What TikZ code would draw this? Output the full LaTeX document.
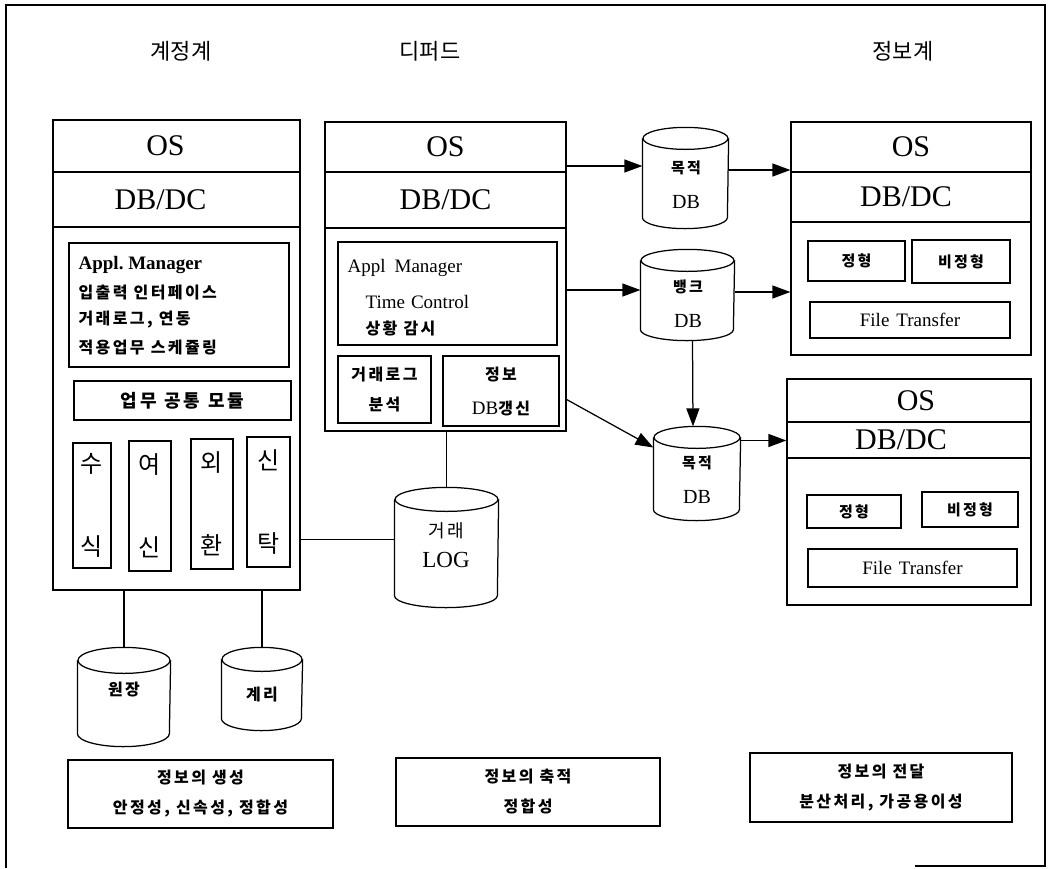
\documentclass[tikz,border=0pt]{standalone}
\usepackage{fontspec}
\setmainfont{Liberation Serif}
\newfontfamily\kr{Noto Sans CJK KR}
\newfontfamily\krs{Noto Sans CJK KR}[LetterSpace=15]
\usetikzlibrary{arrows.meta,fit,calc}
\newcommand\cyl[6]{% name x1 y1 x2 y2 ry
  \node[fit={(#2,#3) (#4,#5)}, inner sep=0pt] (#1) {};
  \pgfmathsetmacro\rx{(#4-#2)/2}
  \draw ([yshift=-#6pt]#1.north) ellipse [x radius=\rx pt, y radius=#6pt];
  \draw ([yshift=-#6pt]#1.north west) -- ([yshift=#6pt]#1.south west)
        arc[start angle=180, end angle=360, x radius=\rx pt, y radius=#6pt]
        -- ([yshift=-#6pt]#1.north east);
}
\newcommand\bx[7][]{% [opts] name x1 y1 x2 y2 text
  \pgfmathsetmacro\bxcx{(#3+#5)/2}%
  \pgfmathsetmacro\bxcy{(#4+#6)/2}%
  \pgfmathsetmacro\bxw{#5-#3}%
  \pgfmathsetmacro\bxh{#6-#4}%
  \node[draw, inner sep=0pt, align=center, minimum width=\bxw pt, minimum height=\bxh pt, #1] (#2) at (\bxcx,\bxcy) {#7};%
}
\begin{document}
\begin{tikzpicture}[x=1pt,y=-1pt, line width=1.25pt,
  big/.style={font=\fontsize{30}{32}\selectfont},
  hdr/.style={font=\fontsize{22}{26}\selectfont\kr, inner sep=0pt},
  krb/.style={font=\fontsize{#1}{#1}\selectfont\krs\bfseries, inner sep=0pt},
  lat/.style={font=\fontsize{#1}{#1}\selectfont, inner sep=0pt},
  vch/.style={font=\fontsize{24}{83}\selectfont\kr},
  arr/.style={-{Triangle[length=18pt,width=13pt]}},
]
\useasboundingbox (0,0) rectangle (1052,868);
\draw (6,868) -- (6,5) -- (1045,5) -- (1045,866) -- (915,866);

% headers
\node[hdr] (h1) at (181,51) {계정계};
\node[hdr] (h2) at (430,51) {디퍼드};
\node[hdr] (h3) at (903,51) {정보계};

% ---------- left system
\bx[big]{Los}{53}{120}{300}{172}{\hspace*{-22pt}OS}
\bx[big]{Ldb}{53}{172}{300}{227}{\hspace*{-32pt}DB/DC}
\bx{Lbody}{53}{227}{300}{590}{}
\bx{Lappl}{69}{243}{289}{367}{}
\node[anchor=west, inner sep=0pt, font=\fontsize{19}{19}\selectfont\bfseries] (La1) at (78,265) {Appl.\ Manager};
\node[krb=16, anchor=west] (La2) at (78,293) {입출력 인터페이스};
\node[krb=16, anchor=west] (La3) at (78,320) {거래로그, 연동};
\node[krb=16, anchor=west] (La4) at (78,348) {적용업무 스케쥴링};
\bx[font=\fontsize{18}{18}\selectfont\krs\bfseries]{Lcom}{74}{381}{291}{420}{업무\hspace{8pt}공통\hspace{8pt}모듈}
\bx[vch]{V1}{73}{443}{111}{568}{수\\식}
\bx[vch]{V2}{129}{441}{171}{571}{여\\신}
\bx[vch]{V3}{191}{439}{233}{569}{외\\환}
\bx[vch]{V4}{247}{437}{290}{567}{신\\탁}

\cyl{wj}{78}{648}{170}{746}{13}
\node[krb=16] (wjt) at (124,690) {원장};
\cyl{gr}{222}{648}{302}{730}{12}
\node[krb=16] (grt) at (262,695) {계리};
\draw (Lbody.south -| wj.north) -- (wj.north);
\draw (Lbody.south -| gr.north) -- (gr.north);

% ---------- middle system
\bx[big]{Mos}{325}{122}{566}{172}{OS}
\bx[big]{Mdb}{325}{172}{566}{228}{DB/DC}
\bx{M}{325}{228}{566}{431}{}
\bx{Mappl}{338}{242}{557}{345}{}
\node[lat=19, anchor=west] (Ma1) at (347,268) {Appl\hspace{9pt}Manager};
\node[lat=19, anchor=west] (Ma2) at (365,302) {Time\hspace{6pt}Control};
\node[krb=16, anchor=west] (Ma3) at (365,328) {상황 감시};
\bx[font=\fontsize{16}{30}\selectfont\krs\bfseries]{Mlog}{338}{356}{431}{423}{거래로그\\분석}
\bx[font=\fontsize{16}{34}\selectfont\krs\bfseries]{Mupd}{443}{356}{559}{426}{정보\\{\normalfont\rmfamily\fontsize{19}{19}\selectfont DB}갱신}

\cyl{lg}{395}{488}{498}{607}{12}
\node[inner sep=0pt, align=center, font=\fontsize{18}{30}\selectfont\krs] (lgt) at (446,545) {거래\\{\rmfamily\fontsize{23}{23}\selectfont LOG}};
\draw (M.south -| lg.north) -- (lg.north);
\coordinate (lgin) at ([yshift=8pt]lg.west);
\draw (Lbody.east |- lgin) -- (lgin);

% ---------- DB cylinders
\cyl{c1}{643}{128}{728}{228}{11}
\node[inner sep=0pt, align=center, font=\fontsize{15}{35}\selectfont\krs\bfseries] (c1t) at (686,185) {목적\\{\normalfont\rmfamily\fontsize{20}{20}\selectfont DB}};
\cyl{c2}{641}{250}{734}{340}{11}
\node[inner sep=0pt, align=center, font=\fontsize{15}{35}\selectfont\krs\bfseries] (c2t) at (688,304) {뱅크\\{\normalfont\rmfamily\fontsize{20}{20}\selectfont DB}};
\cyl{c3}{654}{427}{740}{520}{11}
\node[inner sep=0pt, align=center, font=\fontsize{15}{35}\selectfont\krs\bfseries] (c3t) at (697,480) {목적\\{\normalfont\rmfamily\fontsize{20}{20}\selectfont DB}};

% ---------- right systems
\bx[big]{R1os}{791}{122}{1031}{172}{OS}
\bx[big]{R1db}{791}{172}{1031}{222}{\hspace*{-10pt}DB/DC}
\bx{R1}{791}{222}{1031}{355}{}
\bx[font=\fontsize{15}{15}\selectfont\krs\bfseries]{R1a}{808}{241}{905}{281}{정형}
\bx[font=\fontsize{15}{15}\selectfont\krs\bfseries]{R1b}{912}{240}{1010}{283}{비정형}
\bx[font=\fontsize{19}{19}\selectfont]{R1c}{810}{302}{1010}{338}{File\hspace{7pt}Transfer}

\bx[big]{R2os}{787}{379}{1031}{422}{\hspace*{14pt}OS}
\bx[big]{R2db}{787}{422}{1031}{458}{\hspace*{-16pt}DB/DC}
\bx{R2}{787}{458}{1031}{605}{}
\bx[font=\fontsize{15}{15}\selectfont\krs\bfseries]{R2a}{807}{495}{901}{528}{정형}
\bx[font=\fontsize{15}{15}\selectfont\krs\bfseries]{R2b}{922}{492}{1018}{527}{비정형}
\bx[font=\fontsize{19}{19}\selectfont]{R2c}{808}{549}{1017}{587}{File\hspace{7pt}Transfer}

% ---------- arrows
\coordinate (c1in) at ([yshift=12pt]c1.west);
\coordinate (c1out) at ([yshift=8pt]c1.east);
\coordinate (c2in) at ([yshift=5pt]c2.west);
\coordinate (c2out) at ([yshift=3pt]c2.east);
\coordinate (c3in) at ([yshift=26pt]c3.west);
\coordinate (c3out) at ([yshift=33pt]c3.east);
\coordinate (mdiag) at ([yshift=-70pt]M.east);
\draw[arr] (Mos.east |- c1in) -- (c1in);
\draw[arr] (c1out) -- (R1os.west |- c1out);
\draw[arr] (M.east |- c2in) -- (c2in);
\draw[arr] (c2out) -- (R1.west |- c2out);
\draw[arr] ([xshift=5pt]c2.south) -- ([xshift=-4pt]c3.north);
\draw[arr] (mdiag) -- (c3in);
\draw[arr] (c3out) -- (R2db.west |- c3out);

% ---------- bottom boxes
\bx[font=\fontsize{16}{30}\selectfont\krs\bfseries]{B1}{68}{760}{333}{828}{정보의 생성\\안정성, 신속성, 정합성}
\bx[font=\fontsize{16}{30}\selectfont\krs\bfseries]{B2}{396}{758}{660}{826}{정보의 축적\\정합성}
\bx[font=\fontsize{16}{30}\selectfont\krs\bfseries]{B3}{750}{753}{1012}{822}{정보의 전달\\분산처리, 가공용이성}
\end{tikzpicture}
\end{document}
